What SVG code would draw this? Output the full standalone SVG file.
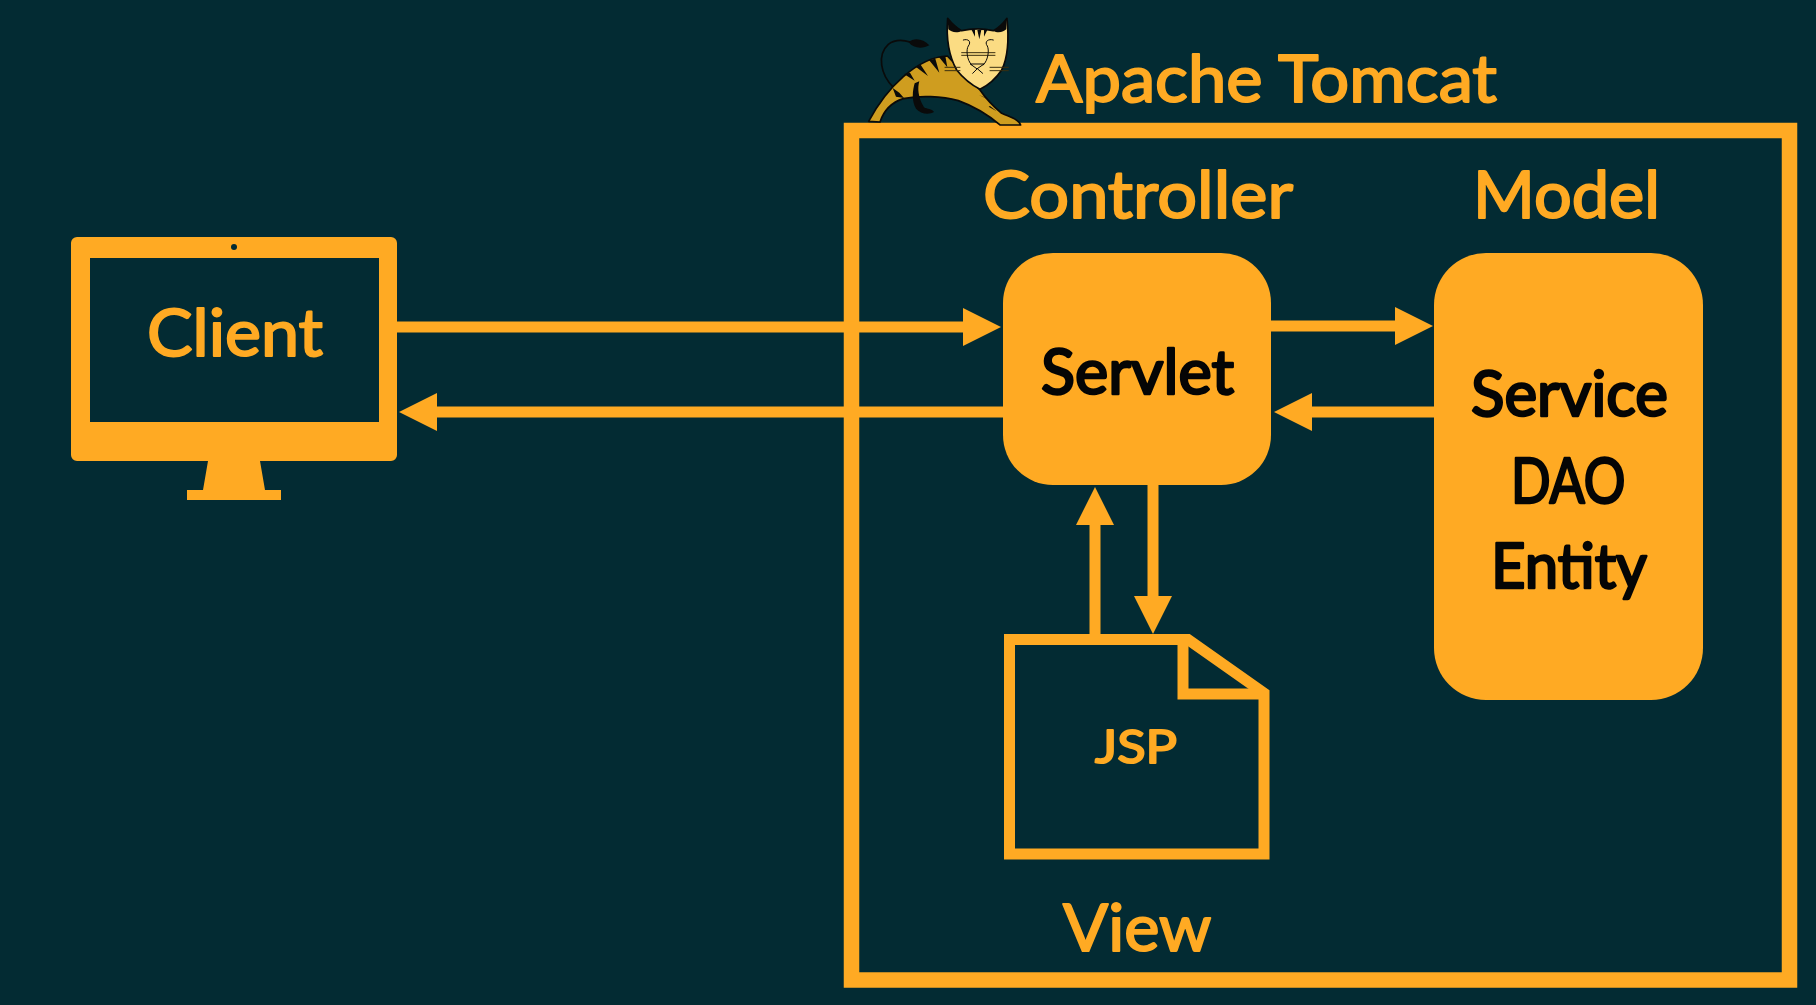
<svg xmlns="http://www.w3.org/2000/svg" width="1816" height="1005" viewBox="0 0 1816 1005">
<defs>
<style>
.o{fill:#ffaa23}
.ln{fill:none;stroke:#ffaa23}
.t{font-family:"Lato","Noto Sans",sans-serif;font-weight:400;stroke-width:2;stroke-linejoin:round;paint-order:stroke}
.to{fill:#ffaa23;stroke:#ffaa23}
.tk{fill:#050505;stroke:#050505;stroke-width:2.500}
.a{stroke:#ffaa23;stroke-width:11;fill:none}
.c{fill:none;stroke:#0a0a0a;stroke-width:5;stroke-linecap:round;stroke-linejoin:round}
.c2{fill:#0a0a0a;stroke:none}
</style>
<marker id="ah" markerUnits="userSpaceOnUse" markerWidth="38" markerHeight="38" refX="0" refY="19" orient="auto"><path d="M0 0L38 19L0 38Z" fill="#ffaa23"/></marker>
</defs>
<rect width="1816" height="1005" fill="#032b33"/>
<g id="tomcat-frame">
<rect class="ln" x="851.500" y="130.500" width="938" height="849.500" stroke-width="15.500"/>
</g>
<g id="tomcat-logo" transform="translate(860 10) scale(.3333)">
<path class="c" d="M100 232C62 195 50 135 85 103C105 88 130 90 150 96"/>
<path class="c2" d="M146 97C160 82 190 85 208 106C188 117 160 116 146 97Z"/>
<path d="M26 334C55 280 90 235 130 200C170 165 215 140 262 138L360 240C375 262 395 285 425 310C450 320 475 328 482 345L420 345C385 315 345 290 295 272C245 258 180 256 130 266C92 278 72 300 60 336Z" fill="#cf9d1f" stroke="#0a0a0a" stroke-width="5" stroke-linejoin="round"/>
<path class="c2" d="M178 214C172 235 174 262 192 292C202 298 215 296 222 306C205 316 180 310 168 296C154 272 158 240 164 220ZM98 234L118 248L132 264L108 260Z"/>
<path class="c2" d="M132 192L164 212L150 188ZM167 170L204 198L182 164ZM207 150L238 188L226 146ZM236 140L262 172L256 138ZM356 254L394 274L370 260ZM386 290L410 304L390 288Z"/>
<path d="M263 25C275 40 290 55 305 62C335 55 370 55 400 62C415 55 430 40 441 25C447 85 445 140 425 180C405 210 380 228 360 238C335 225 310 205 290 180C268 140 258 85 263 25Z" fill="#fbdc83" stroke="#0a0a0a" stroke-width="5" stroke-linejoin="round"/>
<path class="c2" d="M263 25C278 40 292 55 306 62C290 72 272 65 265 58ZM441 25C428 40 414 55 400 62C414 72 432 65 439 58ZM352 60L358 88L364 60ZM335 60L345 80L345 58ZM372 58L372 80L382 60Z"/>
<path class="c" style="stroke-width:3;stroke:#3a2f10" d="M305 128H405M305 136H405M255 172H300M255 182H300M390 172H445M390 182H445"/>
<path class="c" style="stroke-width:3" d="M310 90C325 85 335 95 325 108C318 118 320 150 335 165M400 90C385 85 372 95 382 108C388 120 385 150 370 165M332 162L372 162L352 176ZM338 190L352 176L368 190"/>
</g>
<g id="connectors">
<line class="a" x1="397" y1="327" x2="963" y2="327" marker-end="url(#ah)"/>
<line class="a" x1="1003" y1="412" x2="437" y2="412" marker-end="url(#ah)"/>
<line class="a" x1="1271" y1="326" x2="1395" y2="326" marker-end="url(#ah)"/>
<line class="a" x1="1435" y1="412" x2="1312" y2="412" marker-end="url(#ah)"/>
<line class="a" x1="1095" y1="636" x2="1095" y2="525" marker-end="url(#ah)"/>
<line class="a" x1="1153" y1="484" x2="1153" y2="596" marker-end="url(#ah)"/>
</g>
<g id="client">
<path class="o" fill-rule="evenodd" d="M77 237H391a6 6 0 0 1 6 6V455a6 6 0 0 1-6 6H260L265 490H281V500H187V490H203L208 461H77a6 6 0 0 1-6-6V243a6 6 0 0 1 6-6ZM90 258V422H379V258Z"/>
<circle cx="234" cy="247" r="3" fill="#032b33"/>
<text class="t to" x="147" y="356" font-size="66" textLength="176" lengthAdjust="spacingAndGlyphs">Client</text>
</g>
<g id="title">
<text class="t to" x="1036" y="102" font-size="66" textLength="461" lengthAdjust="spacingAndGlyphs">Apache Tomcat</text>
</g>
<g id="controller">
<text class="t to" x="983" y="218" font-size="66" textLength="310" lengthAdjust="spacingAndGlyphs">Controller</text>
<rect class="o" x="1003" y="253" width="268" height="232" rx="50"/>
<text class="t tk" x="1041" y="394" font-size="62" textLength="193" lengthAdjust="spacingAndGlyphs">Servlet</text>
</g>
<g id="model">
<text class="t to" x="1473" y="218" font-size="66" textLength="187" lengthAdjust="spacingAndGlyphs">Model</text>
<rect class="o" x="1434" y="253" width="269" height="447" rx="52"/>
<text class="t tk" x="1471" y="416" font-size="62" textLength="197" lengthAdjust="spacingAndGlyphs">Service</text>
<text class="t tk" x="1511" y="503" font-size="62" textLength="114.500" lengthAdjust="spacingAndGlyphs">DAO</text>
<text class="t tk" x="1491" y="588" font-size="62" textLength="156" lengthAdjust="spacingAndGlyphs">Entity</text>
</g>
<g id="view">
<path class="ln" stroke-width="11" d="M1009.500 639.500H1188L1264 693V854H1009.500Z"/>
<path class="ln" stroke-width="11" d="M1183 640V694H1264"/>
<text class="t to" x="1095" y="763" font-size="46" textLength="82" lengthAdjust="spacingAndGlyphs">JSP</text>
<text class="t to" x="1063" y="951" font-size="66" textLength="148.500" lengthAdjust="spacingAndGlyphs">View</text>
</g>
</svg>
